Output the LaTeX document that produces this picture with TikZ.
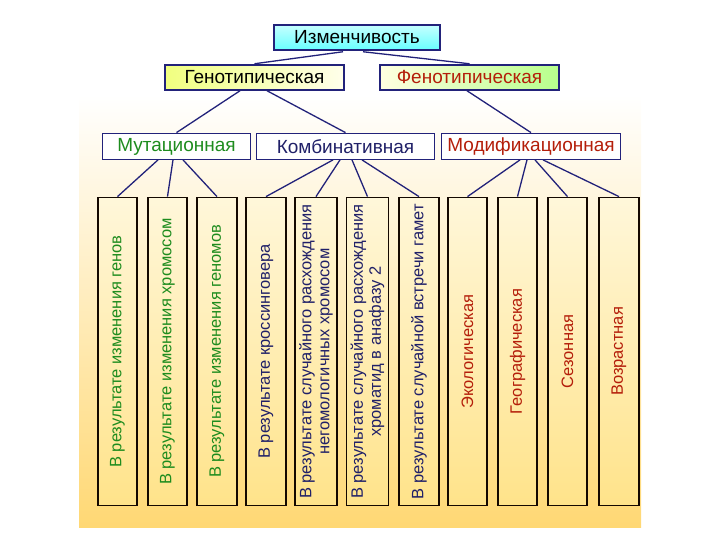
\documentclass[tikz,border=0pt]{standalone}
\usepackage{fontspec}
\setmainfont{Liberation Sans}
\usetikzlibrary{calc}
\definecolor{navy}{HTML}{22227A}
\definecolor{boxblack}{HTML}{140800}
\definecolor{bgy}{HTML}{FFD874}
\definecolor{vtop}{HTML}{FFF7DA}
\definecolor{vbot}{HTML}{FFE38A}
\definecolor{tgreen}{HTML}{1E8C1E}
\definecolor{tnavy}{HTML}{202068}
\definecolor{tred}{HTML}{B41E0A}
\tikzset{
  hdr/.style={draw=navy, line width=2pt, minimum height=25.5pt, inner sep=0pt, font=\fontsize{19}{22}\selectfont},
  sub/.style={draw=navy, line width=1.3pt, fill=white, minimum height=26.5pt, inner sep=0pt, font=\fontsize{19}{22}\selectfont},
  vbox/.style={draw=boxblack, line width=1.8pt, top color=vtop, bottom color=vbot, minimum width=39.5pt, minimum height=308pt, inner sep=0pt},
  vtext/.style={rotate=90, align=center, inner sep=0pt, font=\fontsize{16.5}{18}\selectfont},
  conn/.style={draw=navy, line width=1.3pt}
}
\begin{document}
\begin{tikzpicture}[x=1pt,y=-1pt]
\useasboundingbox (0,0) rectangle (720,540);
\shade[top color=white, bottom color=bgy] (79,95) rectangle (641,527);

% top level
\node[hdr, top color=cyan!22, bottom color=cyan!60!white, minimum width=166pt] (top) at (357,37.5) {Изменчивость};
\node[hdr, left color=lime!45!yellow!50!white, right color=yellow!8!white, minimum width=179pt] (geno) at (254.5,77.5) {Генотипическая};
\node[hdr, left color=yellow!12!white, right color=lime!50!green!45!white, minimum width=179pt, text=tred] (pheno) at (469.5,77.5) {Фенотипическая};

% second level
\node[sub, minimum width=148pt, text=tgreen] (mut) at (176.5,146.5) {Мутационная};
\node[sub, minimum width=178pt, text=tnavy] (komb) at (345.5,146.5) {Комбинативная};
\node[sub, minimum width=179pt, text=tred] (mod) at (531,146.5) {Модификационная};

% vertical boxes
\foreach \n/\x/\w in {1/117.5/39.5, 2/167.5/39.5, 3/217/39.5, 4/266/39.5, 5/316/42, 6/367.5/42, 7/419/39.5, 8/467.5/39.5, 9/517.5/39.5, 10/567.5/39.5, 11/619/40}
  \node[vbox, minimum width=\w pt] (b\n) at (\x,351.5) {};

\node[vtext, text=tgreen] at (b1) {В результате изменения генов};
\node[vtext, text=tgreen] at (b2) {В результате изменения хромосом};
\node[vtext, text=tgreen] at (b3) {В результате изменения геномов};
\node[vtext, text=tnavy] at (b4) {В результате кроссинговера};
\node[vtext, text=tnavy] at (b5) {В результате случайного расхождения\\негомологичных хромосом};
\node[vtext, text=tnavy] at (b6) {В результате случайного расхождения\\хроматид в анафазу 2};
\node[vtext, text=tnavy] at (b7) {В результате случайной встречи гамет};
\node[vtext, text=tred] at (b8) {Экологическая};
\node[vtext, text=tred] at (b9) {Географическая};
\node[vtext, text=tred] at (b10) {Сезонная};
\node[vtext, text=tred] at (b11) {Возрастная};

% connectors
\draw[conn] ($(top.south)+(-14,0.5)$) -- (geno.north);
\draw[conn] ($(top.south)+(6,0.5)$) -- (pheno.north);
\draw[conn] ($(geno.south)+(-14.5,-0.5)$) -- (mut.north);
\draw[conn] ($(geno.south)+(12.5,-0.5)$) -- (komb.north);
\draw[conn] ($(pheno.south)+(-2.5,-0.5)$) -- (mod.north);
\draw[conn] ($(mut.south)+(-18.5,-0.5)$) -- (b1.north);
\draw[conn] ($(mut.south)+(-3.5,-0.5)$) -- (b2.north);
\draw[conn] ($(mut.south)+(6.5,-0.5)$) -- (b3.north);
\draw[conn] ($(komb.south)+(-12.5,-0.5)$) -- (b4.north);
\draw[conn] ($(komb.south)+(-5.5,-0.5)$) -- (b5.north);
\draw[conn] ($(komb.south)+(6.5,-0.5)$) -- (b6.north);
\draw[conn] ($(komb.south)+(16.5,-0.5)$) -- (b7.north);
\draw[conn] ($(mod.south)+(-11,-0.5)$) -- (b8.north);
\draw[conn] ($(mod.south)+(-4,-0.5)$) -- (b9.north);
\draw[conn] ($(mod.south)+(4,-0.5)$) -- (b10.north);
\draw[conn] ($(mod.south)+(12,-0.5)$) -- (b11.north);
\end{tikzpicture}
\end{document}
